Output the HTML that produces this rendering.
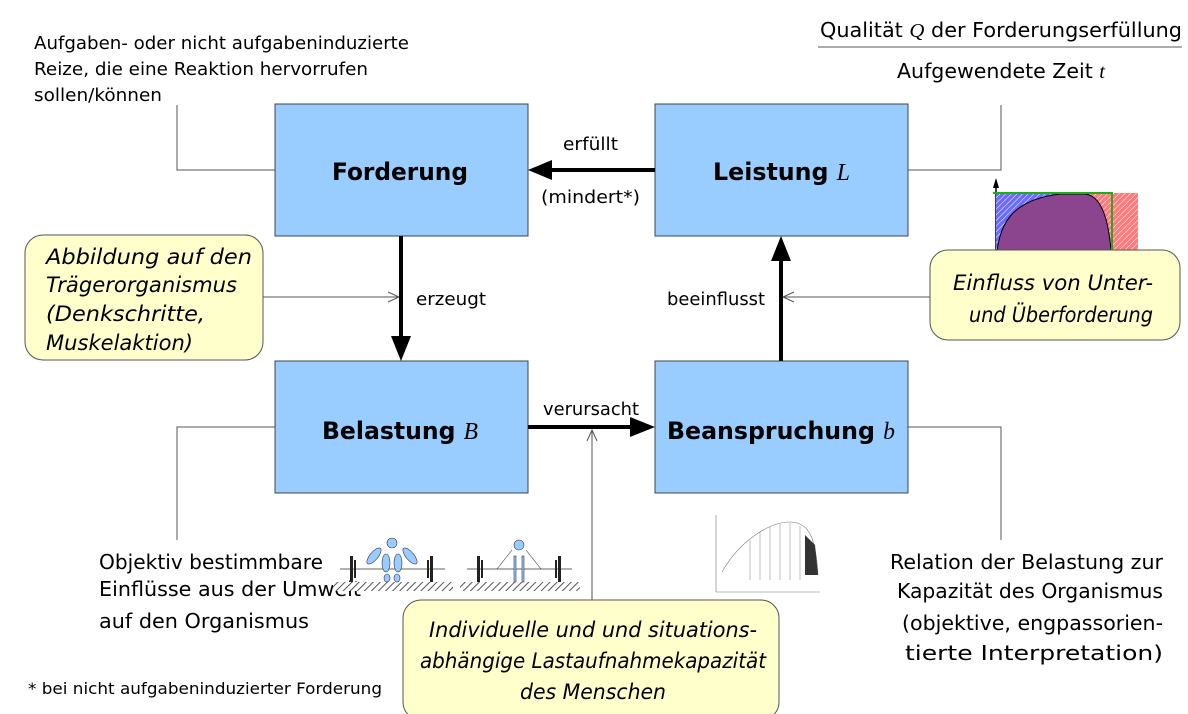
<!DOCTYPE html>
<html><head><meta charset="utf-8"><style>
html,body{margin:0;padding:0;background:#fff;width:1188px;height:714px;overflow:hidden}
svg text{font-family:"DejaVu Sans","Liberation Sans",sans-serif;fill:#000}
.t{font-size:18px}
.m{font-size:20px}
.b{font-size:24px;font-weight:bold}
.i{font-size:21px;font-style:italic}
.s{font-family:"Liberation Serif",serif;font-style:italic;font-weight:normal}
</style></head><body>
<svg width="1188" height="714" viewBox="0 0 1188 714" xmlns="http://www.w3.org/2000/svg">
<defs>
<pattern id="hb" width="4" height="4" patternUnits="userSpaceOnUse" patternTransform="rotate(45)"><rect width="4" height="4" fill="#6b6bff"/><line x1="0" y1="0" x2="0" y2="4" stroke="#fff" stroke-width="1"/></pattern>
<pattern id="hr" width="4" height="4" patternUnits="userSpaceOnUse" patternTransform="rotate(45)"><rect width="4" height="4" fill="#ff7a7a"/><line x1="0" y1="0" x2="0" y2="4" stroke="#fff" stroke-width="1"/></pattern>
<pattern id="hg" width="5" height="5" patternUnits="userSpaceOnUse" patternTransform="rotate(45)"><rect width="5" height="5" fill="#fff"/><line x1="0" y1="0" x2="0" y2="5" stroke="#555" stroke-width="2"/></pattern>
</defs>
<g stroke="#555" stroke-width="1" fill="none">
<polyline points="177,105 177,170 275,170"/>
<polyline points="1001,105 1001,170 908,170"/>
<polyline points="177,540 177,427 275,427"/>
<polyline points="1001,540 1001,427 908,427"/>
<line x1="263" y1="297" x2="399" y2="297"/><polyline points="388,292 399,297 388,302"/>
<line x1="930" y1="297" x2="783" y2="297"/><polyline points="794,292 783,297 794,302"/>
<line x1="592" y1="600" x2="592" y2="430"/><polyline points="587,441 592,430 597,441"/>
<line x1="818" y1="47" x2="1182" y2="47"/>
</g>
<g fill="#99ccff" stroke="#444" stroke-width="1">
<rect x="275" y="104" width="253" height="132"/>
<rect x="655" y="104" width="253" height="132"/>
<rect x="275" y="361" width="253" height="132"/>
<rect x="655" y="361" width="253" height="132"/>
</g>
<text class="b" x="332" y="180" textLength="136" lengthAdjust="spacingAndGlyphs">Forderung</text>
<text class="b" x="713" y="180" textLength="137" lengthAdjust="spacingAndGlyphs">Leistung <tspan class="s">L</tspan></text>
<text class="b" x="322" y="439" textLength="156" lengthAdjust="spacingAndGlyphs">Belastung <tspan class="s">B</tspan></text>
<text class="b" x="667" y="439" textLength="228" lengthAdjust="spacingAndGlyphs">Beanspruchung <tspan class="s">b</tspan></text>
<g stroke="#000" stroke-width="4">
<line x1="655" y1="170" x2="550" y2="170"/>
<line x1="401" y1="236" x2="401" y2="340"/>
<line x1="528" y1="427" x2="634" y2="427"/>
<line x1="781" y1="361" x2="781" y2="258"/>
</g>
<g fill="#000">
<polygon points="528,170 552,160 552,180"/>
<polygon points="401,361 391,336 411,336"/>
<polygon points="655,427 630,417 630,437"/>
<polygon points="781,236 771,261 791,261"/>
</g>
<text class="t" x="563" y="150" textLength="55" lengthAdjust="spacingAndGlyphs">erfüllt</text>
<text class="t" x="541" y="203" textLength="99" lengthAdjust="spacingAndGlyphs">(mindert*)</text>
<text class="t" x="416" y="305" textLength="70" lengthAdjust="spacingAndGlyphs">erzeugt</text>
<text class="t" x="667" y="305" textLength="98" lengthAdjust="spacingAndGlyphs">beeinflusst</text>
<text class="t" x="543" y="415" textLength="96" lengthAdjust="spacingAndGlyphs">verursacht</text>
<text class="t" x="34" y="49" textLength="375" lengthAdjust="spacingAndGlyphs">Aufgaben- oder nicht aufgabeninduzierte</text>
<text class="t" x="34" y="75" textLength="334" lengthAdjust="spacingAndGlyphs">Reize, die eine Reaktion hervorrufen</text>
<text class="t" x="34" y="101" textLength="128" lengthAdjust="spacingAndGlyphs">sollen/können</text>
<text class="m" x="820" y="37" textLength="362" lengthAdjust="spacingAndGlyphs">Qualität <tspan class="s">Q</tspan> der Forderungserfüllung</text>
<text class="m" x="897" y="78" textLength="208" lengthAdjust="spacingAndGlyphs">Aufgewendete Zeit <tspan class="s">t</tspan></text>
<text class="m" x="99" y="569" textLength="224" lengthAdjust="spacingAndGlyphs">Objektiv bestimmbare</text>
<text class="m" x="99" y="596" textLength="262" lengthAdjust="spacingAndGlyphs">Einflüsse aus der Umwelt</text>
<text class="m" x="99" y="628" textLength="210" lengthAdjust="spacingAndGlyphs">auf den Organismus</text>
<text class="m" x="890" y="569" textLength="273" lengthAdjust="spacingAndGlyphs">Relation der Belastung zur</text>
<text class="m" x="897" y="598" textLength="266" lengthAdjust="spacingAndGlyphs">Kapazität des Organismus</text>
<text class="m" x="902" y="630" textLength="261" lengthAdjust="spacingAndGlyphs">(objektive, engpassorien-</text>
<text class="m" x="905" y="660" textLength="258" lengthAdjust="spacingAndGlyphs">tierte Interpretation)</text>
<text class="t" x="28" y="694" style="font-size:16px" textLength="354" lengthAdjust="spacingAndGlyphs">* bei nicht aufgabeninduzierter Forderung</text>
<line x1="996" y1="282" x2="996" y2="182" stroke="#000" stroke-width="1.5"/>
<polygon points="996,178 993,188 999,188" fill="#000"/>
<line x1="990" y1="263" x2="1148" y2="263" stroke="#000" stroke-width="1"/>
<rect x="996" y="193" width="116" height="70" fill="url(#hb)"/>
<rect x="1090" y="193" width="48" height="70" fill="url(#hr)"/>
<path d="M996,263 C998,225 1010,200 1060,194 L1085,194 C1105,196 1110,230 1112,263 Z" fill="#8b458f" stroke="#000" stroke-width="1"/>
<polyline points="993,193 1112,193 1112,263" fill="none" stroke="#2a2" stroke-width="2"/>
<g stroke="#777" stroke-width="0.6" fill="none">
<line x1="716" y1="515" x2="716" y2="592"/><line x1="716" y1="592" x2="820" y2="592"/>
<path d="M722,572 C740,540 770,522 790,522 C810,522 816,540 818,575"/>
<g stroke="#999"><line x1="750" y1="540" x2="750" y2="580"/><line x1="760" y1="532" x2="760" y2="580"/><line x1="770" y1="527" x2="770" y2="580"/><line x1="780" y1="524" x2="780" y2="580"/><line x1="790" y1="523" x2="790" y2="580"/><line x1="800" y1="526" x2="800" y2="580"/></g>
</g>
<path d="M805,535 L815,545 L818,575 L805,575 Z" fill="#333"/>
<rect x="333" y="582" width="120" height="9" fill="url(#hg)"/>
<rect x="460" y="582" width="120" height="9" fill="url(#hg)"/>
<line x1="340" y1="569" x2="445" y2="569" stroke="#666" stroke-width="1"/>
<line x1="467" y1="569" x2="572" y2="569" stroke="#666" stroke-width="1"/>
<g fill="#222"><rect x="350" y="556" width="3" height="26"/><rect x="354" y="560" width="2" height="18"/><rect x="430" y="556" width="3" height="26"/><rect x="427" y="560" width="2" height="18"/>
<rect x="477" y="556" width="3" height="26"/><rect x="481" y="560" width="2" height="18"/><rect x="558" y="556" width="3" height="26"/><rect x="555" y="560" width="2" height="18"/></g>
<g fill="#99ccff" stroke="#335" stroke-width="0.6">
<circle cx="392" cy="543" r="5"/><ellipse cx="386" cy="563" rx="4" ry="9"/><ellipse cx="398" cy="563" rx="4" ry="9"/><ellipse cx="387" cy="578" rx="3" ry="4"/><ellipse cx="397" cy="578" rx="3" ry="4"/>
<ellipse cx="374" cy="556" rx="4" ry="10" transform="rotate(40 374 556)"/><ellipse cx="410" cy="556" rx="4" ry="10" transform="rotate(-40 410 556)"/>
<circle cx="519" cy="545" r="5"/><rect x="514" y="556" width="2" height="26"/><rect x="522" y="556" width="2" height="26"/>
<line x1="512" y1="550" x2="497" y2="569"/><line x1="526" y1="550" x2="541" y2="569"/>
</g>
<g fill="#ffffcc" stroke="#555" stroke-width="1">
<rect x="25" y="235" width="238" height="125" rx="18"/>
<rect x="930" y="250" width="250" height="90" rx="18"/>
<rect x="403" y="600" width="376" height="120" rx="18"/>
</g>
<text class="i" x="46" y="264" textLength="206" lengthAdjust="spacingAndGlyphs">Abbildung auf den</text>
<text class="i" x="46" y="292" textLength="191" lengthAdjust="spacingAndGlyphs">Trägerorganismus</text>
<text class="i" x="46" y="321" textLength="159" lengthAdjust="spacingAndGlyphs">(Denkschritte,</text>
<text class="i" x="46" y="350" textLength="147" lengthAdjust="spacingAndGlyphs">Muskelaktion)</text>
<text class="i" x="953" y="290" textLength="200" lengthAdjust="spacingAndGlyphs">Einfluss von Unter-</text>
<text class="i" x="969" y="322" textLength="184" lengthAdjust="spacingAndGlyphs">und Überforderung</text>
<text class="i" x="429" y="637" textLength="328" lengthAdjust="spacingAndGlyphs">Individuelle und und situations-</text>
<text class="i" x="420" y="668" textLength="346" lengthAdjust="spacingAndGlyphs">abhängige Lastaufnahmekapazität</text>
<text class="i" x="520" y="699" textLength="146" lengthAdjust="spacingAndGlyphs">des Menschen</text>
</svg>
</body></html>
